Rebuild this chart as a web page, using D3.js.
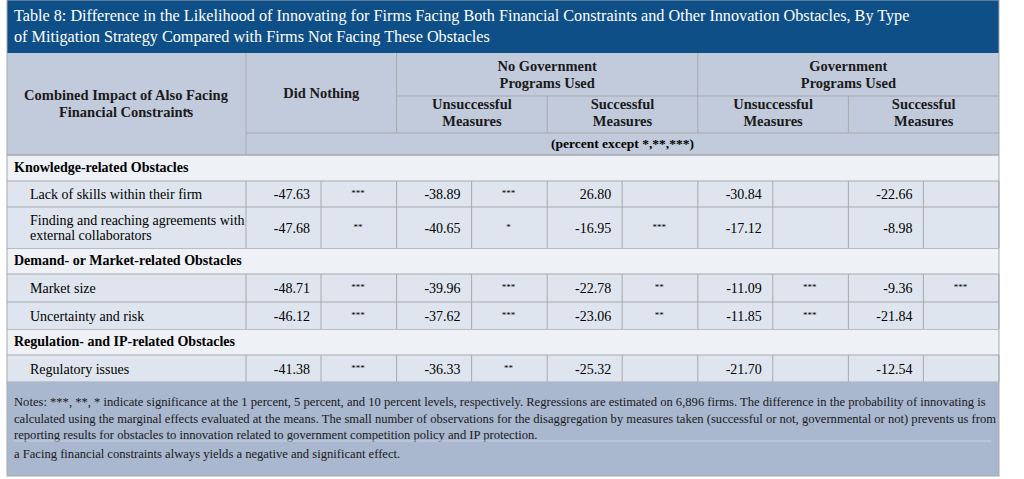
<!DOCTYPE html>
<html><head><meta charset="utf-8">
<script src="https://cdnjs.cloudflare.com/ajax/libs/d3/7.8.5/d3.min.js"></script>
<style>body{margin:0;background:#fff}svg{font-family:"Liberation Serif","DejaVu Serif",serif}</style>
</head><body><div id="chart"></div>
<script>
const title = ["Table 8: Difference in the Likelihood of Innovating for Firms Facing Both Financial Constraints and Other Innovation Obstacles, By Type",
  "of Mitigation Strategy Compared with Firms Not Facing These Obstacles"];
const groups = ["Did Nothing", "No Government|Programs Used", "Government|Programs Used"];
const subHeads = ["Unsuccessful|Measures", "Successful|Measures", "Unsuccessful|Measures", "Successful|Measures"];
const sections = ["Knowledge-related Obstacles", "Demand- or Market-related Obstacles", "Regulation- and IP-related Obstacles"];
const rowLabels = ["Lack of skills within their firm", "Finding and reaching agreements with|external collaborators",
  "Market size", "Uncertainty and risk", "Regulatory issues"];
const rowSection = [0, 0, 1, 1, 2];
const values = [
  ["-47.63","***","-38.89","***","26.80","","-30.84","","-22.66",""],
  ["-47.68","**","-40.65","*","-16.95","***","-17.12","","-8.98",""],
  ["-48.71","***","-39.96","***","-22.78","**","-11.09","***","-9.36","***"],
  ["-46.12","***","-37.62","***","-23.06","**","-11.85","***","-21.84",""],
  ["-41.38","***","-36.33","**","-25.32","","-21.70","","-12.54",""]];
const notes = ["Notes: ***, **, * indicate significance at the 1 percent, 5 percent, and 10 percent levels, respectively. Regressions are estimated on 6,896 firms. The difference in the probability of innovating is",
  "calculated using the marginal effects evaluated at the means. The small number of observations for the disaggregation by measures taken (successful or not, governmental or not) prevents us from",
  "reporting results for obstacles to innovation related to government competition policy and IP protection."];
const footnote = "a Facing financial constraints always yields a negative and significant effect.";

const W = 1024, H = 479, L = 7, R = 999;
const svg = d3.select("#chart").append("svg").attr("width", W).attr("height", H);
// column edges: label col then 5 blocks of 150 split into value/star sub-columns
const x = d3.scaleLinear().domain([0, 5]).range([246, 999]);
const subX = i => x(Math.floor(i / 2)) + (i % 2 ? 75 : 0);
const grid = "#a7a9ad";

svg.append("rect").attr("x", L).attr("y", 0).attr("width", R - L).attr("height", 53).attr("fill", "#0f4f88");
title.forEach((t, i) => svg.append("text").attr("x", 14).attr("y", 21 + i * 21).attr("fill", "#fff")
  .attr("font-size", 16.2).text(t));

// header
svg.append("rect").attr("x", L).attr("y", 53).attr("width", R - L).attr("height", 102).attr("fill", "#c2cbdc");
function multi(t, cx, cy, size, weight) {
  const parts = t.split("|");
  parts.forEach((p, i) => svg.append("text").attr("x", cx).attr("y", cy + (i - (parts.length - 1) / 2) * 17)
    .attr("text-anchor", "middle").attr("font-size", size).attr("font-weight", weight).attr("fill", "#1a1a1a").text(p));
}
multi("Combined Impact of Also Facing|Financial Constraints", 126, 108, 14.5, "bold");
svg.append("text").attr("x", 186).attr("y", 112).attr("font-size", 7).attr("font-weight", "bold").text("a");
multi(groups[0], x(0.5), 98, 14.5, "bold");
multi(groups[1], x(2), 79, 14.5, "bold");
multi(groups[2], x(4), 79, 14.5, "bold");
subHeads.forEach((s, i) => multi(s, x(1.5 + i), 117, 14.5, "bold"));
svg.append("text").attr("x", x(2.5)).attr("y", 148).attr("text-anchor", "middle").attr("font-size", 13.5)
  .attr("font-weight", "bold").text("(percent except *,**,***)");
const hl = (x1, x2, y) => svg.append("line").attr("x1", x1).attr("x2", x2).attr("y1", y).attr("y2", y).attr("stroke", grid);
const vl = (xx, y1, y2) => svg.append("line").attr("x1", xx).attr("x2", xx).attr("y1", y1).attr("y2", y2).attr("stroke", grid);
hl(x(1), x(5), 96); hl(x(0), x(5), 133);
vl(x(0), 53, 155); vl(x(1), 53, 133); vl(x(3), 53, 133); vl(x(2), 96, 133); vl(x(4), 96, 133);

// body rows
const sectionH = 26;
const rowH = [26, 41, 28, 27, 27];
let y = 155;
const rowsY = [];
let lastSec = -1;
rowLabels.forEach((lab, r) => {
  if (rowSection[r] !== lastSec) {
    lastSec = rowSection[r];
    svg.append("rect").attr("x", L).attr("y", y).attr("width", R - L).attr("height", sectionH).attr("fill", "#eef1f6");
    hl(L, R, y).attr("stroke-width", 1.5);
    svg.append("text").attr("x", 14).attr("y", y + 17).attr("font-size", 14).attr("font-weight", "bold")
      .text(sections[lastSec]);
    y += sectionH;
  }
  rowsY.push([y, rowH[r]]);
  y += rowH[r];
});
const bodyEnd = y;
rowsY.forEach(([ry, h], r) => {
  svg.append("rect").attr("x", L).attr("y", ry).attr("width", R - L).attr("height", h).attr("fill", "#dfe5ee");
  hl(L, R, ry);
  const parts = rowLabels[r].split("|");
  parts.forEach((p, i) => svg.append("text").attr("x", 30).attr("y", ry + h / 2 + 5 + (i - (parts.length - 1) / 2) * 15)
    .attr("font-size", 14).text(p));
  for (let i = 0; i <= 10; i++) vl(i === 0 ? x(0) : subX(i), ry, ry + h);
  values[r].forEach((v, i) => {
    if (!v) return;
    const t = svg.append("text").attr("y", ry + h / 2 + 5).attr("font-size", i % 2 ? 9 : 14).text(v);
    if (i % 2) t.attr("x", subX(i) + 37).attr("text-anchor", "middle").attr("y", ry + h / 2 + 2);
    else t.attr("x", subX(i) + 64).attr("text-anchor", "end");
  });
});
hl(L, R, bodyEnd);

// notes
svg.append("rect").attr("x", L).attr("y", bodyEnd).attr("width", R - L).attr("height", 476 - bodyEnd).attr("fill", "#a9b7cf");
notes.forEach((n, i) => svg.append("text").attr("x", 14).attr("y", bodyEnd + 24 + i * 16.5).attr("font-size", 12.6)
  .attr("fill", "#1a1a1a").text(n));
svg.append("line").attr("x1", 14).attr("x2", 991).attr("y1", bodyEnd + 59).attr("y2", bodyEnd + 59).attr("stroke", "#c9d2e1");
svg.append("text").attr("x", 14).attr("y", bodyEnd + 76).attr("font-size", 12.6).attr("fill", "#1a1a1a").text(footnote);
// outer border
svg.append("rect").attr("x", L).attr("y", 0).attr("width", R - L).attr("height", 476).attr("fill", "none").attr("stroke", grid);
</script></body></html>
